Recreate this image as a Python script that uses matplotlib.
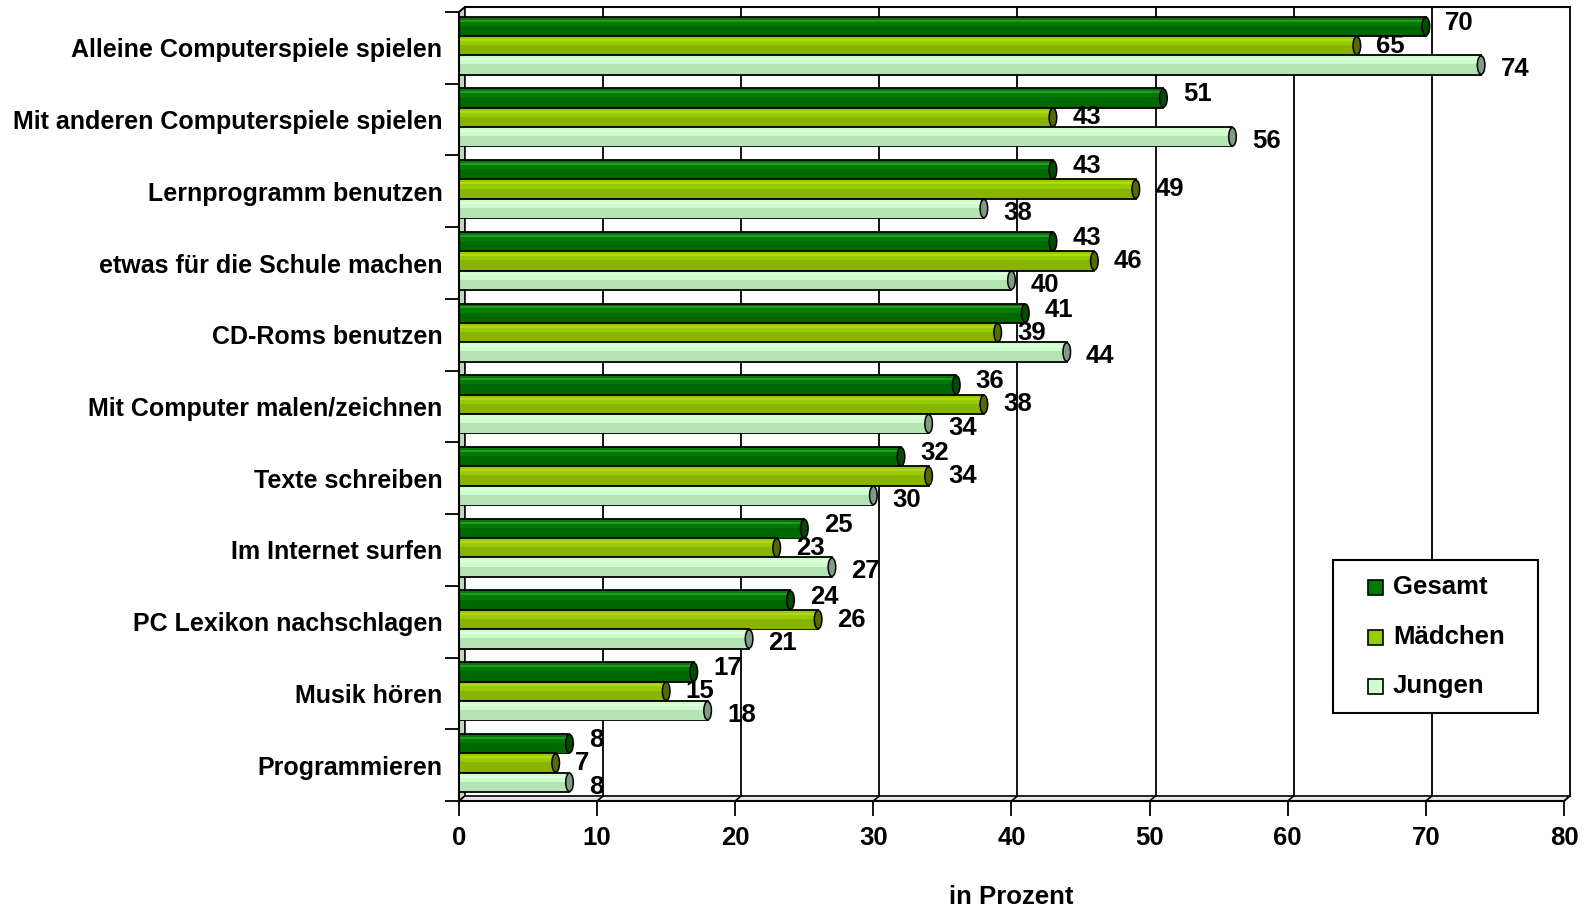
import matplotlib
matplotlib.use("Agg")
import matplotlib.pyplot as plt
from matplotlib.patches import Ellipse, Polygon, Rectangle

plt.rcParams['font.family'] = ['Liberation Sans', 'DejaVu Sans']
plt.rcParams['font.weight'] = 'bold'

categories = ["Alleine Computerspiele spielen", "Mit anderen Computerspiele spielen",
              "Lernprogramm benutzen", "etwas für die Schule machen", "CD-Roms benutzen",
              "Mit Computer malen/zeichnen", "Texte schreiben", "Im Internet surfen",
              "PC Lexikon nachschlagen", "Musik hören", "Programmieren"]
series = ["Gesamt", "Mädchen", "Jungen"]
gesamt = [70, 51, 43, 43, 41, 36, 32, 25, 24, 17, 8]
maedchen = [65, 43, 49, 46, 39, 38, 34, 23, 26, 15, 7]
jungen = [74, 56, 38, 40, 44, 34, 30, 27, 21, 18, 8]
xticks = [0, 10, 20, 30, 40, 50, 60, 70, 80]

# main, lower shade, highlight, end cap
colors = [("#007A00", "#006800", "#2A962A", "#004C00"),
          ("#99CC00", "#88B400", "#AEDA10", "#566A00"),
          ("#CCFFCC", "#B4E4B4", "#E0FFE0", "#7E9C84")]
label_dy = [-0.05, 0.0, 0.06]

fig = plt.figure(figsize=(15.91, 9.10), dpi=100)
ax = fig.add_axes([459 / 1591, (910 - 801) / 910, 1105 / 1591, 789 / 910])
n = len(categories)
ax.set_xlim(0, 80)
ax.set_ylim(n - 0.5, -0.5)

# fake 3d box: back wall offset a few pixels up/right
dx, dy = 0.43, -0.07
ax.add_patch(Polygon([(0, -0.5), (dx, -0.5 + dy), (dx, n - 0.5 + dy), (0, n - 0.5)],
                     closed=True, facecolor="#C4D6C4", edgecolor="black", lw=1.2,
                     clip_on=False, zorder=1))
ax.add_patch(Polygon([(0, n - 0.5), (80, n - 0.5), (80 + dx, n - 0.5 + dy), (dx, n - 0.5 + dy)],
                     closed=True, facecolor="#E8E8E8", edgecolor="black", lw=1.2,
                     clip_on=False, zorder=1))
for t in xticks[1:]:
    ax.plot([t + dx, t + dx], [n - 0.5 + dy, -0.5 + dy], color="black", lw=1.3,
            clip_on=False, zorder=1)
    ax.plot([t, t + dx], [n - 0.5, n - 0.5 + dy], color="black", lw=1.2,
            clip_on=False, zorder=1)
ax.plot([dx, 80 + dx], [-0.5 + dy, -0.5 + dy], color="black", lw=1.5, clip_on=False, zorder=1)
ax.plot([0, dx], [-0.5, -0.5 + dy], color="black", lw=1.2, clip_on=False, zorder=1)

h = 0.27
for s, vals in enumerate([gesamt, maedchen, jungen]):
    main, low, hi, cap = colors[s]
    for i, v in enumerate(vals):
        yc = i - 0.03 + (s - 1) * h
        ax.barh(yc, v, height=h, color=main, edgecolor="black", lw=1.3, zorder=3)
        ax.barh(yc + h * 0.22, v, height=h * 0.5, color=low, lw=0, zorder=3)
        ax.barh(yc - h * 0.3, v, height=h * 0.1, color=hi, lw=0, zorder=3)
        ax.add_patch(Ellipse((v, yc), 0.55, h * 0.95, facecolor=cap, edgecolor="black",
                             lw=1.1, zorder=4))
        ax.text(v + 1.4, yc + label_dy[s], str(v), fontsize=18.5, fontweight="bold",
                ha="left", va="center", zorder=5)

for side in ["top", "right"]:
    ax.spines[side].set_visible(False)
for side in ["left", "bottom"]:
    ax.spines[side].set_linewidth(1.5)
    ax.spines[side].set_zorder(6)

ax.set_xticks(xticks)
ax.set_xticklabels([str(t) for t in xticks], fontsize=18.5, fontweight="bold")
ax.tick_params(axis="x", direction="out", length=11, width=1.3, pad=7)
ax.set_yticks([i - 0.5 for i in range(n + 1)])
ax.set_yticklabels([])
ax.set_yticks(range(n), minor=True)
ax.set_yticklabels(categories, minor=True, fontsize=18, fontweight="bold")
ax.tick_params(axis="y", which="major", direction="out", length=10, width=1.3)
ax.tick_params(axis="y", which="minor", length=0, pad=12)

ax.set_xlabel("in Prozent", fontsize=18.5, fontweight="bold", va="center")
ax.xaxis.set_label_coords(0.5, -(897 - 801) / 789)

# legend box
lx0, ly0, lw_, lh_ = 0.791, 0.1115, 0.1855, 0.194
ax.add_patch(Rectangle((lx0, ly0), lw_, lh_, transform=ax.transAxes, facecolor="white",
                       edgecolor="black", lw=1.5, zorder=7))
row_y = [(801 - 587) / 789, (801 - 637) / 789, (801 - 686) / 789]
for s, name in enumerate(series):
    ax.add_patch(Rectangle(((1368 - 459) / 1105, row_y[s] - 7.5 / 789), 15 / 1105, 15 / 789,
                           transform=ax.transAxes, facecolor=colors[s][0],
                           edgecolor="black", lw=1.2, zorder=8))
    ax.text((1393 - 459) / 1105, row_y[s], name, transform=ax.transAxes, fontsize=18.5,
            fontweight="bold", ha="left", va="center", zorder=8)

fig.savefig("out.png", dpi=100)
